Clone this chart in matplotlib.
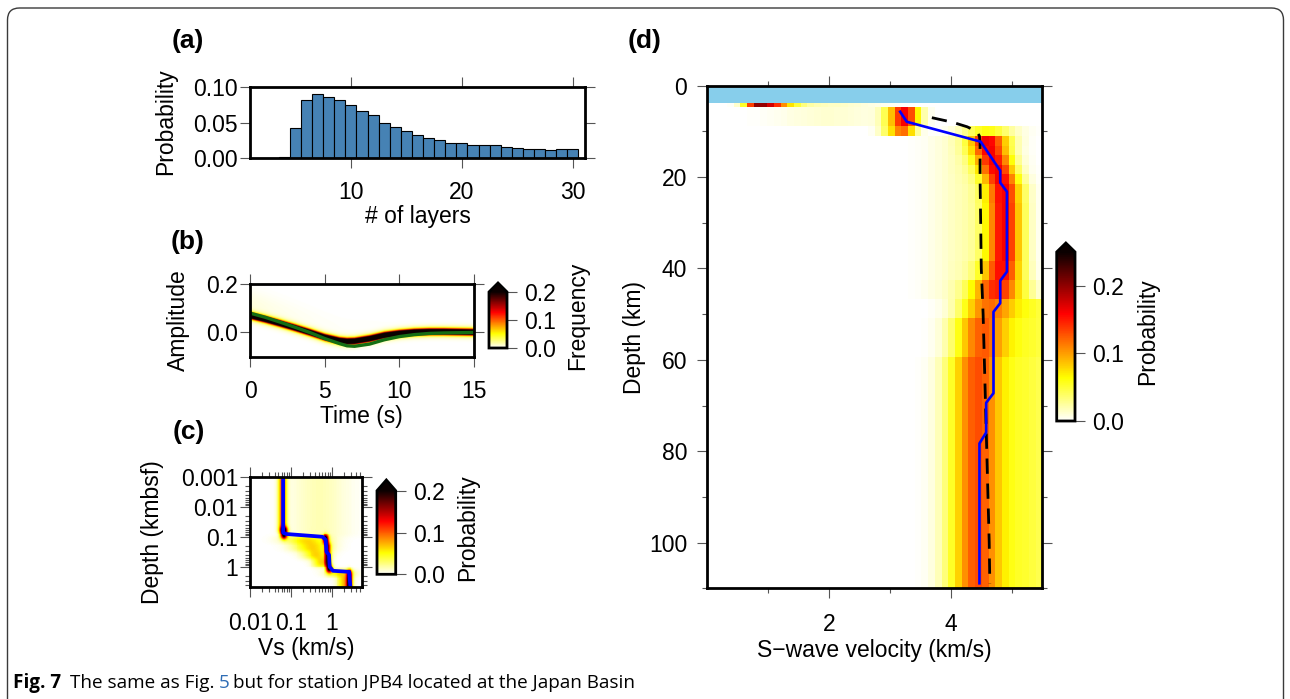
import numpy as np
import matplotlib
matplotlib.use("Agg")
import matplotlib.pyplot as plt
import matplotlib.cm as cm
from matplotlib.colors import Normalize
from matplotlib.patches import FancyBboxPatch
from matplotlib.transforms import IdentityTransform
from matplotlib.ticker import FixedLocator, FixedFormatter, NullFormatter, LogLocator

plt.rcParams['font.family'] = ['Liberation Sans', 'DejaVu Sans']

W, H = 1290, 699
TICK_FS = 16.5
LABEL_FS = 16.5
LETTER_FS = 19
CMAP = plt.get_cmap('hot_r')

# ---------------- (a) number of layers ----------------
n_layers = list(range(1, 31))
layer_prob = [0.0, 0.0, 0.0, 0.0015, 0.042, 0.082, 0.090, 0.086, 0.081, 0.074,
              0.066, 0.060, 0.050, 0.044, 0.038, 0.032, 0.029, 0.026, 0.022, 0.021,
              0.018, 0.018, 0.018, 0.016, 0.015, 0.013, 0.013, 0.012, 0.013, 0.013]

# ---------------- (b) waveforms ----------------
wave_time = [0, 1, 2, 3, 4, 5, 6, 6.5, 7, 8, 9, 10, 11, 12, 13, 14, 15]
wave_mode = [0.070, 0.055, 0.038, 0.020, 0.001, -0.019, -0.033, -0.036, -0.035,
             -0.025, -0.011, -0.003, 0.002, 0.004, 0.004, 0.003, 0.002]
wave_obs = [0.080, 0.063, 0.043, 0.022, 0.000, -0.025, -0.046, -0.055, -0.057,
            -0.048, -0.030, -0.017, -0.009, -0.004, -0.002, -0.001, 0.000]

# ---------------- (c) shallow sediment profile ----------------
shallow_depth = [0.001, 0.0736, 0.081, 0.10, 0.128, 0.316, 0.40, 1.0, 1.36, 1.47, 4.6]
shallow_vs = [0.065, 0.065, 0.079, 0.60, 0.72, 0.75, 0.87, 0.90, 1.09, 2.7, 2.9]
# probability blocks: depth range, centre velocity, log10 spread, peak
blk_top = [1e-4, 0.05, 0.09, 0.16, 0.90, 1.35, 0.10, 0.16, 0.30, 0.55, 1.30, 2.0, 1e-4]
blk_bot = [0.07, 0.11, 0.16, 0.90, 1.45, 10.0, 0.16, 0.30, 0.55, 1.00, 2.00, 10.0, 0.10]
blk_vs = [0.063, 0.068, 0.72, 0.80, 0.88, 2.75, 0.25, 0.33, 0.42, 0.55, 1.6, 2.1, 0.5]
blk_sig = [0.07, 0.06, 0.05, 0.05, 0.05, 0.05, 0.38, 0.32, 0.22, 0.14, 0.22, 0.12, 0.5]
blk_peak = [0.12, 0.26, 0.24, 0.16, 0.24, 0.22, 0.065, 0.065, 0.065, 0.065, 0.07, 0.07, 0.015]

# ---------------- (d) deep profile ----------------
mean_depth = [5.7, 7.9, 12.25, 18.6, 21.2, 23.2, 40.7, 42.7, 47.6, 49.5, 67.3, 69.4, 75.9, 78.3, 108.9]
mean_vs = [3.17, 3.28, 4.49, 4.81, 4.81, 4.92, 4.92, 4.81, 4.81, 4.70, 4.70, 4.58, 4.58, 4.47, 4.47]
ref_depth = [7.0, 8.0, 9.0, 10.0, 11.0, 12.5, 20, 30, 40, 50, 60, 70, 80, 90, 100, 109]
ref_vs = [3.69, 4.03, 4.27, 4.42, 4.47, 4.48, 4.48, 4.49, 4.50, 4.53, 4.55, 4.57, 4.59, 4.61, 4.63, 4.64]
water_depth = 3.7
# posterior layers: top depth, main peak (v, p, left/right spread), secondary peak (v, p, spread)
lay_top = [3.8, 4.7, 8.9, 11.0, 13.1, 15.2, 17.3, 19.4, 21.5, 25.7, 38.3, 42.5, 46.7, 50.9, 59.3]
lay_v = [0.85, 3.25, 3.22, 4.60, 4.64, 4.70, 4.76, 4.82, 4.87, 4.88, 4.85, 4.78, 4.62, 4.50, 4.42]
lay_p = [0.20, 0.160, 0.12, 0.15, 0.15, 0.15, 0.155, 0.155, 0.155, 0.155, 0.15, 0.13, 0.115, 0.115, 0.115]
lay_sl = [0.15, 0.20, 0.20, 0.20, 0.21, 0.21, 0.21, 0.21, 0.21, 0.21, 0.23, 0.28, 0.33, 0.32, 0.32]
lay_sr = [0.35, 0.16, 0.14, 0.25, 0.23, 0.22, 0.21, 0.21, 0.21, 0.21, 0.23, 0.30, 0.33, 0.30, 0.28]
lay_v2 = [2.0, 2.0, 4.60, 4.3, 4.3, 4.3, 4.3, 4.3, 4.3, 4.3, 4.3, 4.4, 5.4, 5.3, 5.2]
lay_p2 = [0.015, 0.012, 0.06, 0.02, 0.02, 0.02, 0.02, 0.02, 0.02, 0.02, 0.02, 0.025, 0.045, 0.05, 0.05]
lay_s2 = [0.6, 0.6, 0.3, 0.4, 0.4, 0.4, 0.4, 0.4, 0.4, 0.4, 0.4, 0.45, 0.35, 0.45, 0.5]

fig = plt.figure(figsize=(W / 100, H / 100), dpi=100)


def add_px_axes(left, top, right, bottom):
    return fig.add_axes([left / W, 1 - bottom / H, (right - left) / W, (bottom - top) / H])


def style_frame(ax, xpad, ypad):
    for sp in ax.spines.values():
        sp.set_linewidth(2.0)
        sp.set_color('black')
        sp.set_zorder(10)
    ax.tick_params(which='both', direction='out', color='#555555', width=0.8,
                   top=True, right=True, labelsize=TICK_FS)
    ax.tick_params(which='major', length=7.5)
    ax.tick_params(which='minor', length=3.8)
    ax.tick_params(axis='x', pad=xpad)
    ax.tick_params(axis='y', pad=ypad)


def fig_text(x, y, s, **kw):
    return fig.text(x / W, 1 - y / H, s, **kw)


def add_cbar(left, top, right, bottom, vmax, frac, label, label_x):
    cax = add_px_axes(left, top, right, bottom)
    sm = cm.ScalarMappable(norm=Normalize(0, vmax), cmap=CMAP)
    cb = fig.colorbar(sm, cax=cax, extend='max', extendfrac=frac)
    cb.set_ticks([0.0, 0.1, 0.2])
    cb.set_ticklabels(['0.0', '0.1', '0.2'])
    cb.outline.set_linewidth(2.0)
    cax.tick_params(direction='out', length=7.5, width=0.8, color='#555555',
                    labelsize=TICK_FS, pad=5)
    fig_text(label_x, (top + bottom) / 2, label, rotation=90, ha='center', va='center',
             fontsize=LABEL_FS)
    return cb


# ======== (a) ========
ax_a = add_px_axes(250, 86.7, 585, 158.3)
ax_a.bar(n_layers, layer_prob, width=1.0, color='#4682b4', edgecolor='black', linewidth=0.8)
ax_a.set_xlim(0.9, 31.1)
ax_a.set_ylim(0, 0.10)
ax_a.set_xticks([10, 20, 30])
ax_a.set_yticks([0.0, 0.05, 0.10])
ax_a.set_yticklabels(['0.00', '0.05', '0.10'])
style_frame(ax_a, 9, 1)
fig_text(166, 122, 'Probability', rotation=90, ha='center', va='center', fontsize=LABEL_FS)
fig_text(417.5, 216.7, '# of layers', ha='center', va='center', fontsize=LABEL_FS)
fig_text(188, 41, '(a)', ha='center', va='center', fontsize=LETTER_FS, weight='bold')

# ======== (b) ========
ax_b = add_px_axes(250, 284, 474, 356.7)
t_grid = np.linspace(0, 15, 301)
a_grid = np.linspace(-0.1, 0.2, 301)
centre = np.interp(t_grid, wave_time, wave_mode)
T, A = np.meshgrid(t_grid, a_grid)
C = np.broadcast_to(centre, T.shape)
freq = (0.40 * np.exp(-0.5 * ((A - C) / 0.0075) ** 2)
        + 0.05 * np.exp(-0.5 * ((A - C) / 0.015) ** 2)
        + 0.007 * np.exp(-0.5 * ((A - C - 0.05) / 0.04) ** 2) * np.exp(-T / 4.0))
ax_b.imshow(freq, extent=[0, 15, -0.1, 0.2], origin='lower', aspect='auto',
            cmap=CMAP, vmin=0, vmax=0.2, interpolation='bilinear')
ax_b.plot(wave_time, wave_obs, color='#146e14', lw=2.4, solid_capstyle='round')
ax_b.set_xlim(0, 15)
ax_b.set_ylim(-0.1, 0.2)
ax_b.set_xticks([0, 5, 10, 15])
ax_b.set_yticks([0.0, 0.2])
ax_b.set_yticklabels(['0.0', '0.2'])
style_frame(ax_b, 9, 1)
fig_text(178, 320.5, 'Amplitude', rotation=90, ha='center', va='center', fontsize=LABEL_FS)
fig_text(361, 416, 'Time (s)', ha='center', va='center', fontsize=LABEL_FS)
fig_text(188, 242, '(b)', ha='center', va='center', fontsize=LETTER_FS, weight='bold')
add_cbar(489, 283, 507, 348, 0.2, 0.16, 'Frequency', 578)

# ======== (c) ========
ax_c = add_px_axes(250, 476.7, 361.7, 586.7)
lv_edges = np.linspace(np.log10(0.01), np.log10(5.5), 121)
ld_edges = np.linspace(-3, np.log10(4.6), 121)
lv_c = 0.5 * (lv_edges[1:] + lv_edges[:-1])
ld_c = 0.5 * (ld_edges[1:] + ld_edges[:-1])
LV, LD = np.meshgrid(lv_c, ld_c)
prob_c = np.zeros_like(LV)
soft = 0.04
for top, bot, v0, s, p in zip(blk_top, blk_bot, blk_vs, blk_sig, blk_peak):
    w = (1 / (1 + np.exp(-(LD - np.log10(top)) / soft))) * (1 / (1 + np.exp(-(np.log10(bot) - LD) / soft)))
    prob_c += p * w * np.exp(-0.5 * ((LV - np.log10(v0)) / s) ** 2)
ax_c.set_xscale('log')
ax_c.set_yscale('log')
ax_c.pcolormesh(10 ** lv_edges, 10 ** ld_edges, prob_c, cmap=CMAP, vmin=0, vmax=0.2,
                shading='flat')
ax_c.plot(shallow_vs, shallow_depth, color='#0000ff', lw=2.7)
ax_c.set_xlim(0.01, 5.5)
ax_c.set_ylim(4.6, 0.001)
ax_c.xaxis.set_major_locator(FixedLocator([0.01, 0.1, 1]))
ax_c.xaxis.set_major_formatter(FixedFormatter(['0.01', '0.1', '1']))
ax_c.xaxis.set_minor_locator(LogLocator(base=10, subs=np.arange(2, 10)))
ax_c.xaxis.set_minor_formatter(NullFormatter())
ax_c.yaxis.set_major_locator(FixedLocator([0.001, 0.01, 0.1, 1]))
ax_c.yaxis.set_major_formatter(FixedFormatter(['0.001', '0.01', '0.1', '1']))
ax_c.yaxis.set_minor_locator(LogLocator(base=10, subs=np.arange(2, 10)))
ax_c.yaxis.set_minor_formatter(NullFormatter())
style_frame(ax_c, 11, 1)
fig_text(153, 532, 'Depth (kmbsf)', rotation=90, ha='center', va='center', fontsize=LABEL_FS)
fig_text(306, 649, 'Vs (km/s)', ha='center', va='center', fontsize=LABEL_FS)
fig_text(189, 432, '(c)', ha='center', va='center', fontsize=LETTER_FS, weight='bold')
add_cbar(377, 480, 395.7, 574.3, 0.2, 0.128, 'Probability', 468)

# ======== (d) ========
ax_d = add_px_axes(706.7, 85.7, 1042.3, 588.3)
v_edges = np.linspace(0, 5.5, 51)
d_edges = np.array([3.8] + [4.7 + 2.1 * k for k in range(51)])
d_edges[-1] = 110.0
v_c = 0.5 * (v_edges[1:] + v_edges[:-1])
d_c = 0.5 * (d_edges[1:] + d_edges[:-1])
prob_d = np.zeros((len(d_c), len(v_c)))
for i, dc in enumerate(d_c):
    k = max(j for j, top in enumerate(lay_top) if top <= dc)
    dv = v_c - lay_v[k]
    sig = np.where(dv < 0, lay_sl[k], lay_sr[k])
    prob_d[i] = (lay_p[k] * np.exp(-0.5 * (dv / sig) ** 2)
                 + lay_p2[k] * np.exp(-0.5 * ((v_c - lay_v2[k]) / lay_s2[k]) ** 2))
ax_d.pcolormesh(v_edges, d_edges, prob_d, cmap=CMAP, vmin=0, vmax=0.25, shading='flat')
ax_d.axhspan(0, water_depth, color='#87ceeb', zorder=3, lw=0)
ax_d.plot(ref_vs, ref_depth, color='black', lw=2.0, ls=(0, (5.5, 3.5)), zorder=4)
ax_d.plot(mean_vs, mean_depth, color='#0000ff', lw=1.9, zorder=5)
ax_d.set_xlim(0, 5.5)
ax_d.set_ylim(110, 0)
ax_d.set_xticks([2, 4])
ax_d.set_xticks([1, 3, 5], minor=True)
ax_d.set_yticks([0, 20, 40, 60, 80, 100])
ax_d.set_yticks([10, 30, 50, 70, 90, 110], minor=True)
style_frame(ax_d, 10, 6.5)
fig_text(634, 337, 'Depth (km)', rotation=90, ha='center', va='center', fontsize=LABEL_FS)
fig_text(874, 650, 'S\u2212wave velocity (km/s)', ha='center', va='center', fontsize=LABEL_FS)
fig_text(645, 41, '(d)', ha='center', va='center', fontsize=LETTER_FS, weight='bold')
add_cbar(1056.7, 243, 1075, 421, 0.25, 0.053, 'Probability', 1147.5)

# ======== outer frame and caption ========
frame = FancyBboxPatch((7.5, -40), 1276, 731, boxstyle='round,pad=0,rounding_size=12',
                       transform=IdentityTransform(), facecolor='none', edgecolor='#3a3a3a',
                       linewidth=1.0)
fig.patches.append(frame)

renderer = fig.canvas.get_renderer()
cap_fs = 13.6
cap_family = ['Open Sans', 'DejaVu Sans']
x = 13.0
base = 1 - 688 / H
pieces = [('Fig. 7', dict(weight='bold'), 8.5),
          ('The same as Fig.', {}, 4.2),
          ('5', dict(color='#2f6db5'), 4.2),
          ('but for station JPB4 located at the Japan Basin', {}, 0)]
for txt, kw, gap in pieces:
    t = fig.text(x / W, base, txt, ha='left', va='baseline', fontsize=cap_fs,
                 family=cap_family, **kw)
    bb = t.get_window_extent(renderer)
    x = bb.x1 + gap

fig.savefig('out.png', dpi=100)
